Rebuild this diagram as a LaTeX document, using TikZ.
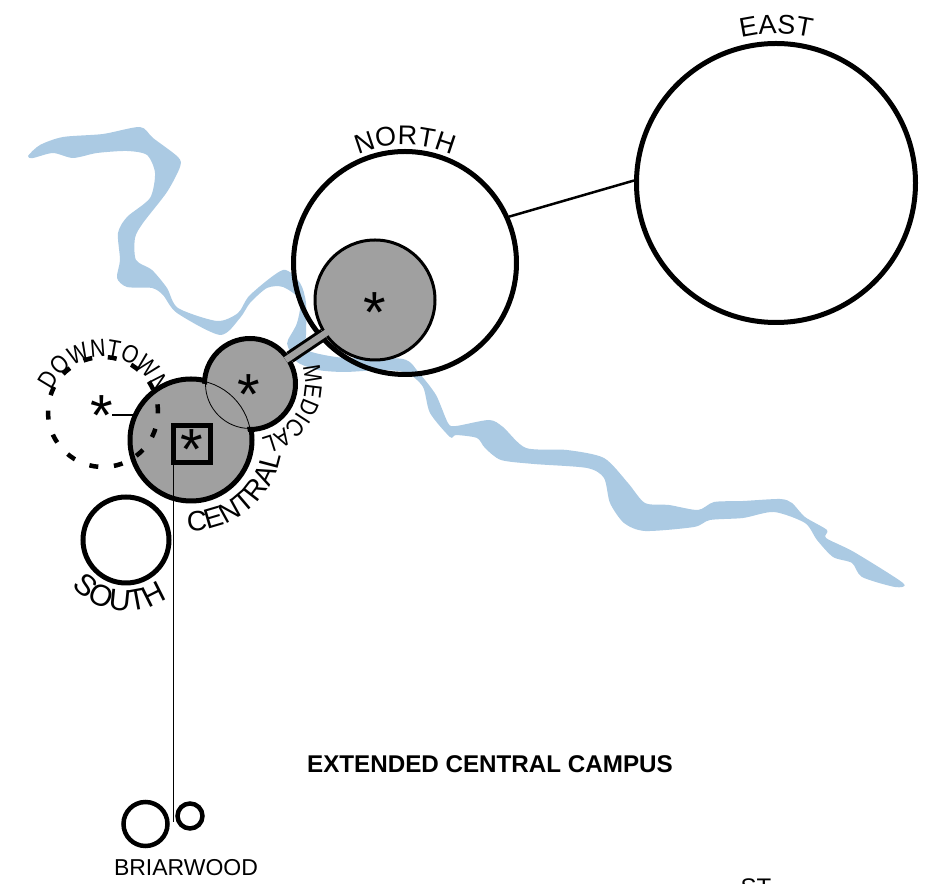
\documentclass[tikz,border=0pt]{standalone}
\usepackage{fontspec}
\usepackage{tikz}
\usetikzlibrary{decorations.text}
\setmainfont{Liberation Sans}
\newfontfamily\narrowfont[FakeStretch=0.85]{Liberation Sans}

\definecolor{river}{HTML}{ABCAE3}
\definecolor{campus}{HTML}{A0A0A0}

\tikzset{
    site/.style={circle, draw, line width=5pt, inner sep=0pt, minimum size=#1},
    core/.style={circle, draw, line width=5pt, fill=campus, inner sep=0pt, minimum size=#1},
    inner/.style={circle, fill=campus, inner sep=0pt, minimum size=#1},
    seam/.style={circle, draw, line width=0.8pt, inner sep=0pt, minimum size=#1},
    star/.style={font=\fontsize{58}{58}\selectfont, inner sep=0pt},
    arclabel/.style n args={2}{decorate, decoration={text along path, text align=center, text={|\fontsize{#1}{#1}\selectfont|#2}}},
    narrowlabel/.style n args={2}{decorate, decoration={text along path, text align=center, text={|\narrowfont\fontsize{#1}{#1}\selectfont|#2}}}
}

\begin{document}
\begin{tikzpicture}[x=1pt, y=1pt]
    \useasboundingbox (0,0) rectangle (938,884);

    % river
    \fill[river] plot[smooth cycle, tension=0.45] coordinates {
        (28,728) (40,739) (63,747) (103,750) (140,757) (153,746) (178,727) (180,717)
        (167,692) (143,661) (135,646) (136,624) (152,614) (167,596) (178,576) (217,563)
        (238,571) (250,589) (283,614) (300,601) (306,581) (306,549) (305,536) (315,531)
        (345,526) (403,525) (419,511)
        (436,489) (448,461) (456,458) (489,464) (503,457) (526,436) (567,434) (604,426)
        (628,401) (645,381) (669,379) (698,374) (714,382) (743,383) (780,385) (792,381)
        (805,367) (827,354) (826,346) (854,332) (903,301) (895,297) (862,307) (852,321)
        (833,327) (817,344) (805,361) (774,372) (743,366) (710,364) (694,357) (645,353)
        (624,361) (610,381) (604,406) (587,416) (534,420) (501,424) (485,436) (477,446)
        (456,449) (450,447) (430,471) (423,497) (407,511) (382,514) (345,512) (318,514)
        (297,522) (288,537) (288,544) (297,561) (300,584) (283,597) (267,596) (250,581)
        (240,566) (220,549)
        (177,571) (163,589) (152,596) (127,597) (117,606) (120,624) (118,651) (127,667)
        (150,686) (155,711) (147,729) (127,733) (97,731) (73,726) (53,731) (33,726)
    };

    \node[site=279pt] (East) at (776,701) {};
    \node[site=223pt] (North) at (405,621) {};
    \node[site=86pt] (South) at (126,344) {};
    \node[site=110pt, draw=none] (Downtown) at (103,472) {};

    \draw[line width=2.5pt] (North.24.5) -- (East.179);

    \node[circle, draw, line width=3pt, fill=campus, inner sep=0pt, minimum size=120pt] (NorthCore) at (375,584) {};

    \node[core=122pt] (Central) at (191,444) {};
    \node[core=91pt] (Medical) at (250,500) {};
    \node[inner=115pt] at (Central) {};
    \node[inner=84pt] at (Medical) {};
    \node[seam=120pt] at (Central) {};
    \node[seam=89pt] at (Medical) {};

    \draw[line width=12.5pt] (Medical) -- (NorthCore);
    \draw[line width=6.5pt, campus, shorten <=-5pt, shorten >=-5pt] (Medical) -- (NorthCore);

    \draw[line width=4.5pt, dash pattern=on 9pt off 15.69pt] (Downtown.center) ++(8:55pt) arc[start angle=8, end angle=-352, radius=55pt];
    \draw[line width=2.5pt] (112,469) -- (133,469);

    \node[draw, line width=5pt, minimum size=37pt, inner sep=0pt] (Square) at (192,440) {};
    \coordinate (BriarwoodEnd) at (173,62);
    \draw[line width=1pt] (BriarwoodEnd |- Square.south) -- (BriarwoodEnd);

    \node[star] at (102,468) {*};
    \node[star] at (192,434) {*};
    \node[star] at (249,489) {*};
    \node[star] at (375,571) {*};

    \path[postaction={narrowlabel={25}{DOWNTOWN}}] ([shift=(178:55pt)]Downtown.center) arc[start angle=178, end angle=-2, radius=55pt];
    \path[postaction={arclabel={27}{NORTH}}] ([shift=(140:118pt)]North.center) arc[start angle=140, end angle=40, radius=118pt];
    \path[postaction={arclabel={27}{EAST}}] ([shift=(120:149pt)]East.center) arc[start angle=120, end angle=60, radius=149pt];
    \path[postaction={narrowlabel={24.5}{MEDICAL}}] ([shift=(60:55pt)]Medical.center) arc[start angle=60, end angle=-120, radius=55pt];
    \path[postaction={arclabel={28}{CENTRAL}}] ([shift=(-141:91pt)]Central.center) arc[start angle=-141, end angle=39, radius=91pt];
    \path[postaction={arclabel={30}{SOUTH}}] ([shift=(-187:71pt)]South.center) arc[start angle=-187, end angle=-7, radius=71pt];

    \node[circle, draw, line width=4.5pt, inner sep=0pt, minimum size=44pt] (Briarwood) at (145.5,60) {};
    \node[circle, draw, line width=4.5pt, inner sep=0pt, minimum size=25pt] (BriarwoodEast) at (190,68) {};
    \node[font=\fontsize{23}{23}\selectfont] (BriarwoodLabel) at (186,16) {BRIARWOOD};

    \node[font=\bfseries\fontsize{24.2}{24}\selectfont] (Title) at (490,120) {EXTENDED CENTRAL CAMPUS};
    \node[font=\fontsize{24}{24}\selectfont, anchor=north, inner sep=0pt] (Cut) at (756,5) {ST};
\end{tikzpicture}
\end{document}
